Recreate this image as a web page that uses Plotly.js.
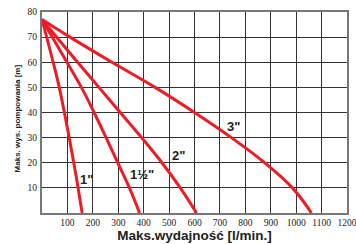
<!DOCTYPE html>
<html><head><meta charset="utf-8">
<script src="https://cdn.plot.ly/plotly-3.0.1.min.js"></script>
<style>html,body{margin:0;padding:0;background:#fff}#c{width:356px;height:244px}</style>
</head><body><div id="c"></div>
<script>
const q1 = [0, 44, 68, 88, 107, 125, 142, 158];
const h1 = [77, 60, 50, 40, 30, 20, 10, 0];
const q15 = [0, 98, 155, 205, 252, 298, 344, 384];
const h15 = [77, 60, 50, 40, 30, 20, 10, 0];
const q2 = [0, 140, 224, 308, 392, 472, 544, 608];
const h2 = [77, 60, 50, 40, 30, 20, 10, 0];
const q3 = [0, 110, 275, 445, 600, 745, 876, 985, 1060];
const h3 = [77, 70, 60, 50, 40, 30, 20, 10, 0];
const xTicks = [100,200,300,400,500,600,700,800,900,1000,1100,1200];
const yTicks = [10,20,30,40,50,60,70,80];
const seriesLabels = ['1"', '1½"', '2"', '3"'];
const labelPos = [[177,13.3],[394,15.3],[538,23],[754,34.5]];
const yTitle = 'Maks. wys. pompowania [m]';
const xTitle = 'Maks.wydajność [l/min.]';

const red = '#ee1c25';
const mk = (x,y) => ({x, y, type:'scatter', mode:'lines', line:{color:red, width:3, shape:'spline', smoothing:1.2}, hoverinfo:'skip'});
const data = [mk(q1,h1), mk(q15,h15), mk(q2,h2), mk(q3,h3)];
const annotations = seriesLabels.map((t,i)=>({x:labelPos[i][0], y:labelPos[i][1], text:'<b>'+t+'</b>', showarrow:false, font:{family:'Liberation Sans, Arial', size:13, color:'#222'}}));
annotations.push({xref:'paper', yref:'paper', x:-0.079, y:0.47, xanchor:'center', yanchor:'middle', textangle:-90, showarrow:false, text:'<b>'+yTitle+'</b>', font:{family:'Liberation Sans, Arial', size:8, color:'#222'}});
const ax = {showgrid:true, gridcolor:'#333', gridwidth:1, showline:true, linecolor:'#777', linewidth:2, mirror:true, zeroline:false, ticks:'', ticklabeloverflow:'allow', tickfont:{family:'Times New Roman, Liberation Serif, DejaVu Serif, serif', size:9.5, color:'#222'}};
const layout = {
  width:356, height:244, margin:{l:42, r:9, t:12, b:31},
  paper_bgcolor:'#fff', plot_bgcolor:'#fff', showlegend:false,
  xaxis: Object.assign({}, ax, {range:[0,1200], tickvals:xTicks, title:{text:'<b>'+xTitle+'</b>', font:{family:'Liberation Sans, Arial', size:13.5, color:'#222'}, standoff:1}}),
  yaxis: Object.assign({}, ax, {range:[0,80], tickvals:yTicks, ticklabelstandoff:1}),
  annotations
};
Plotly.newPlot('c', data, layout, {staticPlot:true, displayModeBar:false});
</script></body></html>
